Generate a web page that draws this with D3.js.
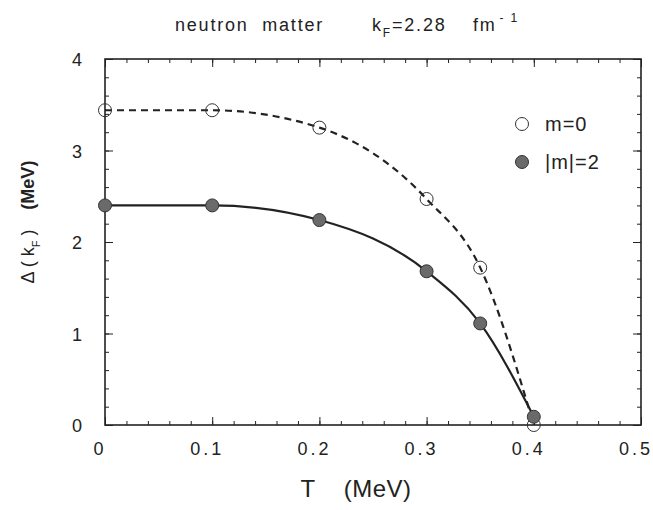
<!DOCTYPE html>
<html>
<head>
<meta charset="utf-8">
<script src="https://cdn.jsdelivr.net/npm/d3@7"></script>
<style>
  body { margin: 0; background: #fff; }
  svg { font-family: "Liberation Sans", Arial, sans-serif; }
</style>
</head>
<body>
<svg id="chart" width="653" height="510"></svg>
<script>
// temperatures (MeV) where the gap was computed
const temps = [0, 0.1, 0.2, 0.3, 0.35, 0.4];
// gap for m = 0 (open circles, dashed)
const gapM0 = [3.44, 3.44, 3.25, 2.47, 1.72, 0.0];
// gap for |m| = 2 (filled circles, solid)
const gapM2 = [2.40, 2.40, 2.24, 1.68, 1.11, 0.09];
const xTicks = [0, 0.1, 0.2, 0.3, 0.4, 0.5];
const yTicks = [0, 1, 2, 3, 4];
const legendLabels = ['m=0', '|m|=2'];

const svg = d3.select('#chart');
const margin = { top: 59, right: 12, bottom: 85, left: 105 };
const width = +svg.attr('width') - margin.left - margin.right;
const height = +svg.attr('height') - margin.top - margin.bottom;

const x = d3.scaleLinear().domain([0, 0.5]).range([margin.left, margin.left + width]);
const y = d3.scaleLinear().domain([0, 4]).range([margin.top + height, margin.top]);

const ink = '#222';

// frame
svg.append('rect')
    .attr('x', margin.left).attr('y', margin.top)
    .attr('width', width).attr('height', height)
    .attr('fill', 'none').attr('stroke', ink).attr('stroke-width', 1.6);

// inward ticks on all four sides
function ticks(axisFn, scale, values, size, translate) {
    const g = svg.append('g')
        .attr('transform', translate)
        .call(axisFn(scale).tickValues(values).tickSize(size).tickFormat(''));
    g.select('.domain').remove();
    g.selectAll('line').attr('stroke', ink).attr('stroke-width', 1);
}
const xMinor = d3.range(0, 0.5001, 0.02);
const yMinor = d3.range(0, 4.0001, 0.2);
ticks(d3.axisBottom, x, xMinor, -4, `translate(0,${margin.top + height})`);
ticks(d3.axisBottom, x, xTicks, -8, `translate(0,${margin.top + height})`);
ticks(d3.axisTop, x, xMinor, -4, `translate(0,${margin.top})`);
ticks(d3.axisTop, x, xTicks, -8, `translate(0,${margin.top})`);
ticks(d3.axisLeft, y, yMinor, -4, `translate(${margin.left},0)`);
ticks(d3.axisLeft, y, yTicks, -8, `translate(${margin.left},0)`);
ticks(d3.axisRight, y, yMinor, -4, `translate(${margin.left + width},0)`);
ticks(d3.axisRight, y, yTicks, -8, `translate(${margin.left + width},0)`);

// tick labels
svg.selectAll('text.xl').data(xTicks).join('text')
    .attr('class', 'xl')
    .attr('x', d => x(d) - 5).attr('y', margin.top + height + 30)
    .attr('text-anchor', 'middle')
    .attr('font-size', 18).attr('letter-spacing', 3).attr('fill', ink)
    .text(d => d === 0 ? '0' : d3.format('.1f')(d));

svg.selectAll('text.yl').data(yTicks).join('text')
    .attr('class', 'yl')
    .attr('x', margin.left - 28).attr('y', d => y(d) + 7)
    .attr('text-anchor', 'middle')
    .attr('font-size', 18).attr('fill', ink)
    .text(d => d);

// curves
const line = d3.line()
    .x(d => x(d[0]))
    .y(d => y(d[1]))
    .curve(d3.curveMonotoneX);

const m0 = temps.map((t, i) => [t, gapM0[i]]);
const m2 = temps.map((t, i) => [t, gapM2[i]]);

svg.append('path').datum(m0)
    .attr('d', line).attr('fill', 'none')
    .attr('stroke', ink).attr('stroke-width', 2.2)
    .attr('stroke-dasharray', '7,5');

svg.append('path').datum(m2)
    .attr('d', line).attr('fill', 'none')
    .attr('stroke', ink).attr('stroke-width', 2.2);

// markers
svg.selectAll('circle.m0').data(m0).join('circle')
    .attr('class', 'm0')
    .attr('cx', d => x(d[0])).attr('cy', d => y(d[1])).attr('r', 6.5)
    .attr('fill', 'none').attr('stroke', '#333').attr('stroke-width', 1);

svg.selectAll('circle.m2').data(m2).join('circle')
    .attr('class', 'm2')
    .attr('cx', d => x(d[0])).attr('cy', d => y(d[1])).attr('r', 6.5)
    .attr('fill', '#6a6a6a').attr('stroke', '#333').attr('stroke-width', 1);

// legend
const legend = svg.append('g');
legendLabels.forEach((lab, i) => {
    const ly = 124 + i * 38;
    legend.append('circle')
        .attr('cx', 522).attr('cy', ly).attr('r', 6.5)
        .attr('fill', i === 0 ? 'none' : '#6a6a6a')
        .attr('stroke', '#333').attr('stroke-width', 1);
    legend.append('text')
        .attr('x', 545).attr('y', ly + 7)
        .attr('font-size', 20).attr('letter-spacing', 1).attr('fill', ink)
        .text(lab);
});

// title
const title = svg.append('text')
    .attr('x', 175).attr('y', 31)
    .attr('font-size', 18).attr('letter-spacing', 1.8).attr('fill', ink)
    .attr('xml:space', 'preserve');
title.append('tspan').text('neutron  matter');
title.append('tspan').attr('x', 372).text('k');
title.append('tspan').attr('dy', 6).attr('font-size', 12).text('F');
title.append('tspan').attr('dy', -6).text('=2.28');
title.append('tspan').attr('x', 473).text('fm');
title.append('tspan').attr('dx', 3).attr('dy', -9).attr('font-size', 12).text('- 1');

// axis titles
svg.append('text')
    .attr('x', 356).attr('y', 497)
    .attr('text-anchor', 'middle')
    .attr('font-size', 24).attr('letter-spacing', 0.5).attr('fill', ink)
    .attr('xml:space', 'preserve')
    .text('T    (MeV)');

const yt = svg.append('text')
    .attr('transform', 'translate(34,222) rotate(-90)')
    .attr('text-anchor', 'middle')
    .attr('font-size', 18).attr('fill', ink)
    .attr('xml:space', 'preserve');
yt.append('tspan').text('\u0394 ( k');
yt.append('tspan').attr('dy', 6).attr('font-size', 11).text('F');
yt.append('tspan').attr('dy', -6).text(' )    ');
yt.append('tspan').attr('font-weight', 'bold').text('(MeV)');
</script>
</body>
</html>
